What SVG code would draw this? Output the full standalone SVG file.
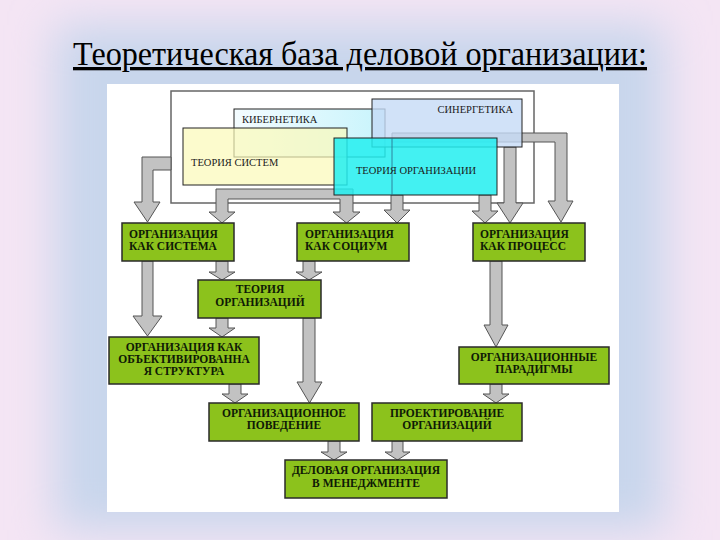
<svg xmlns="http://www.w3.org/2000/svg" width="720" height="540" viewBox="0 0 720 540">
<defs>
<filter id="blur" x="-20%" y="-20%" width="140%" height="140%"><feGaussianBlur stdDeviation="22"/></filter>
<linearGradient id="kib" x1="0" y1="0" x2="1" y2="0"><stop offset="0" stop-color="#f4fcff"/><stop offset="1" stop-color="#c8f4fc"/></linearGradient>
<style>
.lbl{font-family:"Liberation Serif","DejaVu Serif",serif;font-size:10.5px;fill:#1a1a1a}
.box{fill:#8cc21c;stroke:#2a2a2a;stroke-width:1.5}
.bt{font-family:"Liberation Serif","DejaVu Serif",serif;font-size:11.5px;font-weight:bold;fill:#0f1a06}
.c{text-anchor:middle}
.arr{fill:#c2c2c2;stroke:#555;stroke-width:1}
</style>
</defs>
<rect width="720" height="540" fill="#f4e5f4"/>
<rect x="55" y="25" width="610" height="505" fill="#c8d6ec" filter="url(#blur)"/>
<text x="360" y="65" font-family="Liberation Serif, DejaVu Serif, serif" font-size="33" fill="#000" text-anchor="middle" text-decoration="underline" textLength="574" lengthAdjust="spacingAndGlyphs">Теоретическая база деловой организации:</text>
<rect x="107" y="84" width="512" height="428" fill="#fff"/>

<g id="theory-frame">
<rect x="171" y="91" width="363" height="112" fill="#fff" stroke="#666" stroke-width="1.5"/>
</g>
<g id="connectors-top">
<path class="arr" d="M392 133 L567 133 L567 201 L573 201 L561 222 L548 201 L555 201 L555 142 L392 142 Z"/>
<path class="arr" d="M171 157 L171 170 L153 170 L153 202 L160 202 L147.5 222 L134 202 L142 202 L142 157 Z"/>
<path class="arr" d="M216 189 L353 189 L353 212 L360 212 L346.5 223 L333 212 L340 212 L340 199 L228 199 L228 212 L235 212 L222 223 L209 212 L216 212 Z"/>
<path class="arr" d="M391 195 L403 195 L403 210 L410 210 L397 223 L384 210 L391 210 Z"/>
<path class="arr" d="M479 195 L491 195 L491 211 L498 211 L485 223 L472 211 L479 211 Z"/>
<path class="arr" d="M504 147 L516 147 L516 203 L523 203 L510 223 L497 203 L504 203 Z"/>
</g>
<g id="kibernetika">
<rect x="234" y="109" width="151" height="48" fill="url(#kib)" stroke="#222" stroke-width="1"/>
<text class="lbl" x="242" y="123">КИБЕРНЕТИКА</text>
</g>
<g id="sinergetika">
<rect x="372" y="99" width="150" height="48" fill="#c6dbf6" fill-opacity="0.8" stroke="#222" stroke-width="1"/>
<text class="lbl" x="513" y="113" text-anchor="end">СИНЕРГЕТИКА</text>
</g>
<g id="teoria-sistem">
<rect x="183" y="128" width="164" height="57" fill="#fbf9b8" fill-opacity="0.7" stroke="#222" stroke-width="1"/>
<text class="lbl" x="191" y="166">ТЕОРИЯ СИСТЕМ</text>
</g>
<g id="teoria-organizacii">
<rect x="334" y="138" width="163" height="57" fill="#22eef0" fill-opacity="0.85" stroke="#222" stroke-width="1"/>
<line x1="392" y1="138" x2="392" y2="195" stroke="#2a6a8a" stroke-width="0.8"/>
<text class="lbl" x="416" y="174" text-anchor="middle">ТЕОРИЯ ОРГАНИЗАЦИИ</text>
</g>

<g id="connectors">
<path class="arr" d="M142 261 L153 261 L153 316 L162 316 L147.5 336 L133 316 L142 316 Z"/>
<path class="arr" d="M216 261 L228 261 L228 272 L235 272 L222 280 L209 272 L216 272 Z"/>
<path class="arr" d="M303 261 L315 261 L315 272 L322 272 L309 280 L296 272 L303 272 Z"/>
<path class="arr" d="M216 318 L228 318 L228 328 L235 328 L222 337 L209 328 L216 328 Z"/>
<path class="arr" d="M303 318 L315 318 L315 382 L322 382 L309.5 403 L297 382 L303 382 Z"/>
<path class="arr" d="M229 384 L241 384 L241 394 L248 394 L235 403 L222 394 L229 394 Z"/>
<path class="arr" d="M490 261 L502 261 L502 325 L508 325 L496 347 L484 325 L490 325 Z"/>
<path class="arr" d="M490 384 L502 384 L502 394 L509 394 L496 403 L483 394 L490 394 Z"/>
<path class="arr" d="M328 441 L340 441 L340 452 L347 452 L334 460 L321 452 L328 452 Z"/>
<path class="arr" d="M392 441 L403 441 L403 452 L410 452 L397.5 460 L385 452 L392 452 Z"/>
</g>

<g id="org-sistema">
<rect class="box" x="122" y="223" width="112" height="38"/>
<text class="bt" x="129" y="238">ОРГАНИЗАЦИЯ</text>
<text class="bt" x="129" y="250">КАК СИСТЕМА</text>
</g>
<g id="org-socium">
<rect class="box" x="297" y="223" width="112" height="38"/>
<text class="bt" x="305" y="238">ОРГАНИЗАЦИЯ</text>
<text class="bt" x="305" y="250">КАК СОЦИУМ</text>
</g>
<g id="org-process">
<rect class="box" x="473" y="223" width="112" height="38"/>
<text class="bt" x="480" y="238">ОРГАНИЗАЦИЯ</text>
<text class="bt" x="480" y="250">КАК ПРОЦЕСС</text>
</g>
<g id="teoria-organizaciy">
<rect class="box" x="198" y="280" width="123" height="38"/>
<text class="bt c" x="260" y="293">ТЕОРИЯ</text>
<text class="bt c" x="260" y="306">ОРГАНИЗАЦИЙ</text>
</g>
<g id="org-struktura">
<rect class="box" x="109" y="337" width="150" height="47"/>
<text class="bt c" x="184" y="351">ОРГАНИЗАЦИЯ КАК</text>
<text class="bt c" x="184" y="363">ОБЪЕКТИВИРОВАННА</text>
<text class="bt c" x="184" y="375">Я СТРУКТУРА</text>
</g>
<g id="org-paradigmy">
<rect class="box" x="459" y="347" width="150" height="37"/>
<text class="bt c" x="534" y="361">ОРГАНИЗАЦИОННЫЕ</text>
<text class="bt c" x="534" y="373">ПАРАДИГМЫ</text>
</g>
<g id="org-povedenie">
<rect class="box" x="209" y="403" width="150" height="38"/>
<text class="bt c" x="284" y="417">ОРГАНИЗАЦИОННОЕ</text>
<text class="bt c" x="284" y="429">ПОВЕДЕНИЕ</text>
</g>
<g id="proektirovanie">
<rect class="box" x="372" y="403" width="150" height="38"/>
<text class="bt c" x="447" y="417">ПРОЕКТИРОВАНИЕ</text>
<text class="bt c" x="447" y="429">ОРГАНИЗАЦИЙ</text>
</g>
<g id="delovaya">
<rect class="box" x="285" y="460" width="162" height="38"/>
<text class="bt c" x="366" y="474">ДЕЛОВАЯ ОРГАНИЗАЦИЯ</text>
<text class="bt c" x="366" y="487">В МЕНЕДЖМЕНТЕ</text>
</g>
</svg>
